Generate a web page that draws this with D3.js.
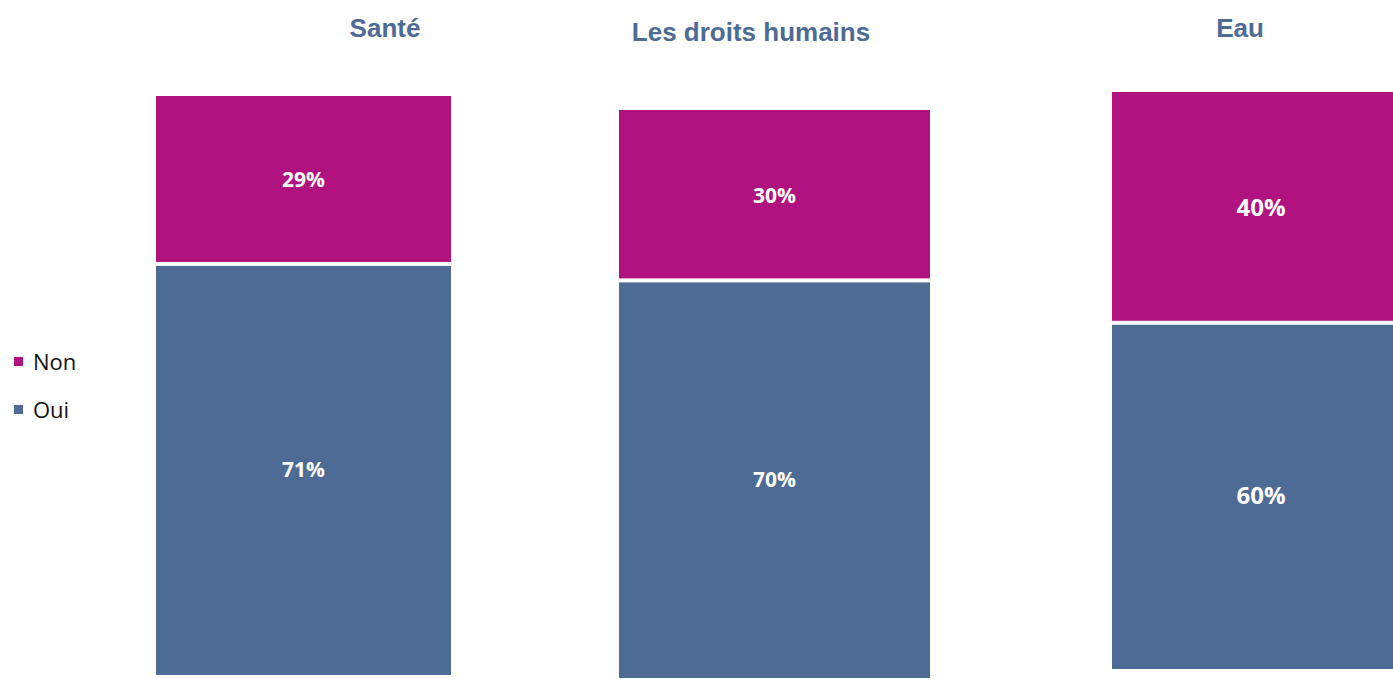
<!DOCTYPE html>
<html>
<head>
<meta charset="utf-8">
<script src="https://cdn.jsdelivr.net/npm/d3@7"></script>
<style>
  body { margin: 0; background: #fff; }
  svg { display: block; }
</style>
</head>
<body>
<div id="container"></div>
<script>
// data
const categories = ["Santé", "Les droits humains", "Eau"];
const series = ["Oui", "Non"];
const ouiValues = [71, 70, 60];
const nonValues = [29, 30, 40];
const legendItems = ["Non", "Oui"];

const colors = { Oui: "#4e6b96", Non: "#b0127f" };

// each category is drawn as its own little panel
const panels = [
  { left: 156, right: 451, top: 96, bottom: 675, titleX: 385, titleY: 37, labelSize: 21 },
  { left: 619, right: 930, top: 110, bottom: 678, titleX: 751, titleY: 41, labelSize: 21 },
  { left: 1112, right: 1410, top: 92, bottom: 669, titleX: 1240, titleY: 37, labelSize: 24 }
];

const width = 1393, height = 679;
const gap = 2; // half of the white gap between segments

const svg = d3.select("#container")
  .append("svg")
  .attr("width", width)
  .attr("height", height);

categories.forEach((cat, i) => {
  const p = panels[i];
  const x = d3.scaleBand().domain([cat]).range([p.left, p.right]).padding(0);
  const y = d3.scaleLinear().domain([0, 100]).range([p.bottom, p.top]);

  const g = svg.append("g");

  // title
  g.append("text")
    .attr("x", p.titleX)
    .attr("y", p.titleY)
    .attr("text-anchor", "middle")
    .style("font-family", "'Liberation Sans', Arial, sans-serif")
    .style("font-weight", "bold")
    .style("font-size", "26px")
    .style("fill", "#4e6b96")
    .text(cat);

  const vals = { Oui: ouiValues[i], Non: nonValues[i] };
  let cum = 0;
  series.forEach((s, k) => {
    const v = vals[s];
    let y0 = y(cum + v), y1 = y(cum);
    if (k > 0) y1 -= gap;
    if (k < series.length - 1) y0 += gap;
    g.append("rect")
      .attr("x", x(cat))
      .attr("y", y0)
      .attr("width", x.bandwidth())
      .attr("height", y1 - y0)
      .style("fill", colors[s]);

    g.append("text")
      .attr("x", x(cat) + x.bandwidth() / 2)
      .attr("y", y(cum + v / 2))
      .attr("dy", "0.35em")
      .attr("text-anchor", "middle")
      .style("font-family", "'Open Sans', 'Noto Sans', sans-serif")
      .style("font-weight", "bold")
      .style("font-size", p.labelSize + "px")
      .style("fill", "#fff")
      .text(v + "%");
    cum += v;
  });
});

// legend
const legend = svg.append("g");
legendItems.forEach((s, i) => {
  const ly = 362 + i * 48;
  legend.append("rect")
    .attr("x", 14)
    .attr("y", ly - 5)
    .attr("width", 9)
    .attr("height", 9)
    .style("fill", colors[s]);
  legend.append("text")
    .attr("x", 33)
    .attr("y", ly)
    .attr("dy", "0.35em")
    .style("font-family", "'Open Sans', 'Noto Sans', sans-serif")
    .style("font-size", "22px")
    .style("fill", "#111")
    .text(s);
});
</script>
</body>
</html>
